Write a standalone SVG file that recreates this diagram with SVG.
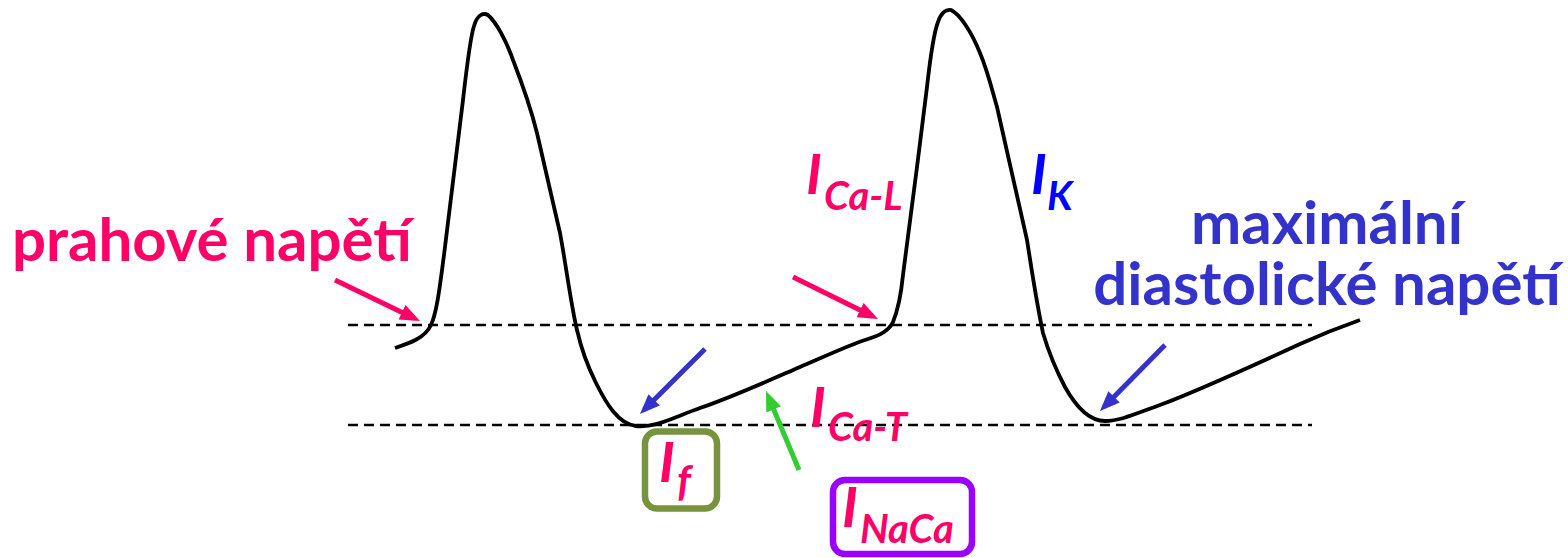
<svg xmlns="http://www.w3.org/2000/svg" width="1568" height="558" viewBox="0 0 1568 558">
<style>
.bg{fill:#ffffff}
.dash{stroke:#000;stroke-width:2.4;stroke-dasharray:10 6;fill:none}
.trace{stroke:#000;stroke-width:3.8;fill:none;stroke-linejoin:round;stroke-linecap:butt}
.lbl{font-family:Lato,"Open Sans","Liberation Sans",sans-serif;font-weight:700}
.it{font-family:Lato,"Open Sans","Liberation Sans",sans-serif;font-weight:700;font-style:italic}
.pink{fill:#FF0066}
.blue{fill:#3333CC}
.kblue{fill:#0000FF}
.ap{stroke:#FF0066;stroke-width:5;fill:none}
.ab{stroke:#3333CC;stroke-width:5;fill:none}
.ag{stroke:#33CC33;stroke-width:5;fill:none}
.box{fill:none;stroke-width:6.5}
</style>
<defs>
<marker id="hp" viewBox="0 0 20 16" refX="14" refY="8" markerWidth="20" markerHeight="16" markerUnits="userSpaceOnUse" orient="auto"><path d="M0,0 L20,8 L0,16 Z" fill="#FF0066"/></marker>
<marker id="hb" viewBox="0 0 20 16" refX="14" refY="8" markerWidth="20" markerHeight="16" markerUnits="userSpaceOnUse" orient="auto"><path d="M0,0 L20,8 L0,16 Z" fill="#3333CC"/></marker>
<marker id="hg" viewBox="0 0 20 16" refX="14" refY="8" markerWidth="20" markerHeight="16" markerUnits="userSpaceOnUse" orient="auto"><path d="M0,0 L20,8 L0,16 Z" fill="#33CC33"/></marker>
</defs>
<rect class="bg" x="0" y="0" width="1568" height="558"/>

<g id="levels">
<line class="dash" x1="348" y1="325" x2="1312" y2="325"/>
<line class="dash" x1="348" y1="425" x2="1312" y2="425"/>
</g>

<g id="trace">
<path class="trace" d="M395,348 C410,343 425,338 431,325 C437,312 440,285 444,255 L463,100 C467,65 470,38 474,26 C477,16 482,12 488,15 C496,22 506,40 513,60 C520,78 530,105 537,133 L560,233 C566,265 571,305 577,330 C582,352 587,365 596,383 C606,403 618,424 636,426 C655,428 672,418 700,408 C730,398 770,380 800,367 C830,354 850,345 862,341 C875,337 888,333 893,322 C898,310 901,295 903,275 L917,167 L927,87 C930,60 933,35 938,22 C941,13 946,9 951,10 C960,14 972,33 980,53 C988,72 992,90 997,107 L1027,240 C1031,265 1036,300 1043,333 C1048,350 1055,368 1065,387 C1075,405 1088,421 1105,421 C1120,421 1135,414 1160,405 C1200,390 1250,367 1300,344 C1320,335 1340,327 1360,320"/>
</g>

<g id="connectors">
<line class="ap" x1="335" y1="280" x2="414.6" y2="318.4" marker-end="url(#hp)"/>
<line class="ap" x1="793" y1="277" x2="872.6" y2="316.3" marker-end="url(#hp)"/>
<line class="ab" x1="705" y1="349" x2="644.2" y2="409.8" marker-end="url(#hb)"/>
<line class="ab" x1="1165" y1="345" x2="1104.2" y2="406.8" marker-end="url(#hb)"/>
<line class="ag" x1="799" y1="470" x2="768.3" y2="396.5" marker-end="url(#hg)"/>
</g>

<g id="label-prah">
<text class="lbl pink" x="12" y="261" font-size="60">prahové napětí</text>
</g>

<g id="label-ICaL">
<text class="it pink" x="806" y="194" font-size="56">I</text>
<text class="it pink" x="824" y="210" font-size="40">Ca-L</text>
</g>

<g id="label-IK">
<text class="it kblue" x="1031" y="194" font-size="56">I</text>
<text class="it kblue" x="1047" y="210" font-size="40">K</text>
</g>

<g id="label-mdn">
<text class="lbl blue" font-size="60" text-anchor="middle"><tspan x="1327" y="244">maximální</tspan><tspan x="1327" y="305">diastolické napětí</tspan></text>
</g>

<g id="label-ICaT">
<text class="it pink" x="810" y="427" font-size="56">I</text>
<text class="it pink" x="828" y="441" font-size="40">Ca-T</text>
</g>

<g id="node-If">
<rect class="box" x="645" y="431.5" width="72" height="77" rx="12" stroke="#77933C"/>
<text class="it pink" x="659" y="482" font-size="56">I</text>
<text class="it pink" x="677" y="496" font-size="42">f</text>
</g>

<g id="node-INaCa">
<rect class="box" x="833" y="480" width="139" height="74" rx="12" stroke="#9900FF"/>
<text class="it pink" x="842" y="527" font-size="56">I</text>
<text class="it pink" x="860" y="543" font-size="40">NaCa</text>
</g>
</svg>
